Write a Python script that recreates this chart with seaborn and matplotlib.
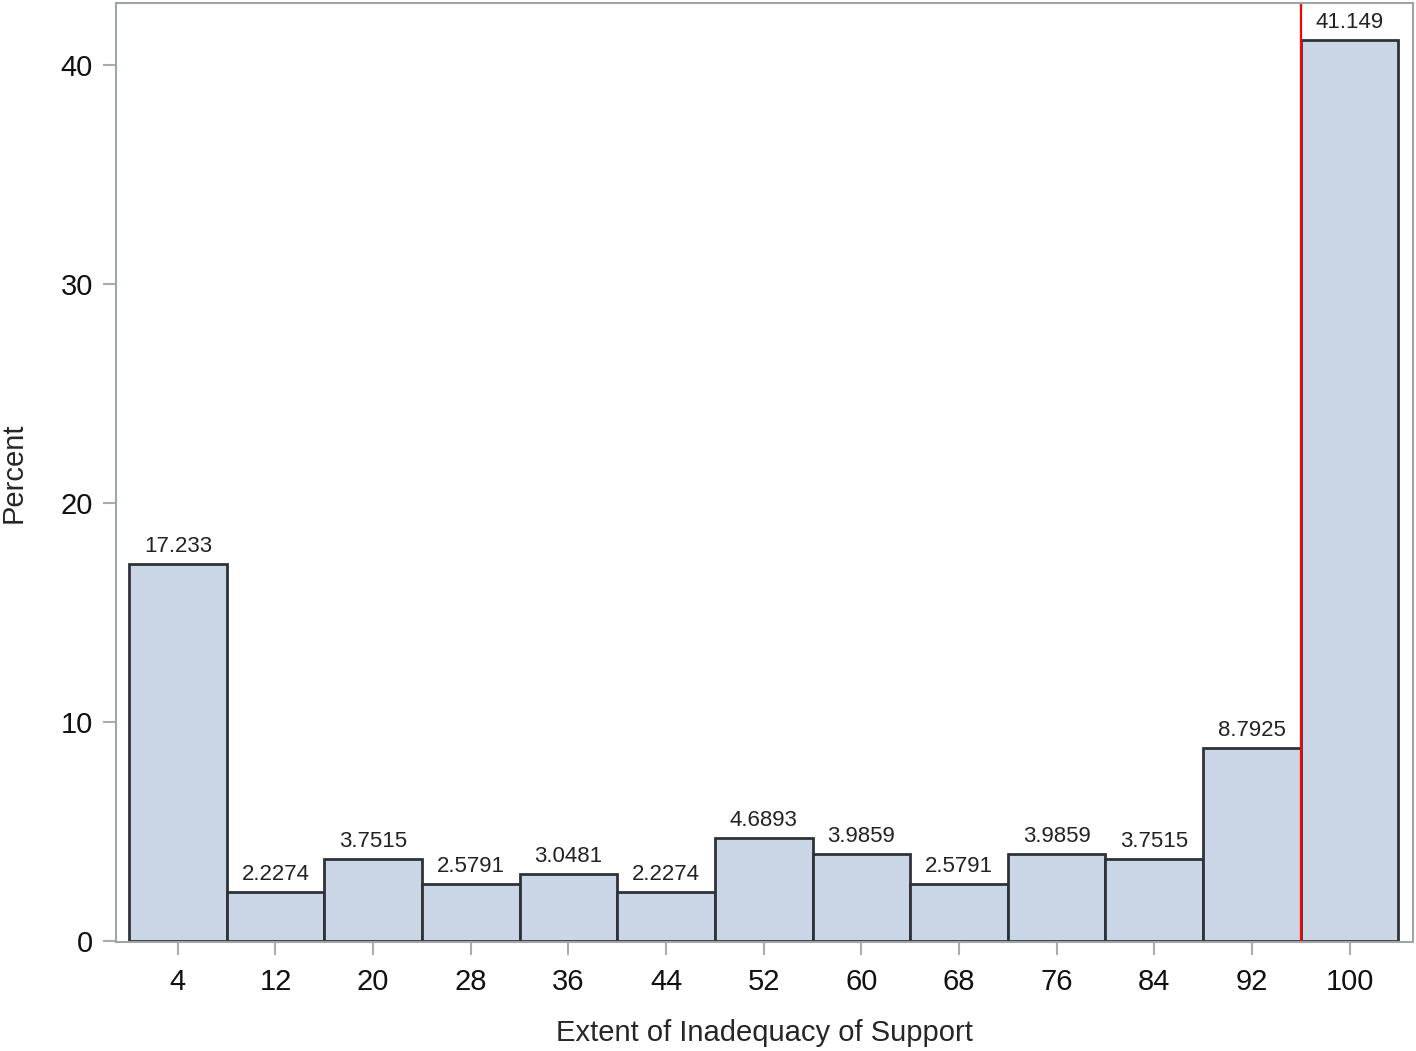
import matplotlib
matplotlib.use("Agg")
import matplotlib.pyplot as plt
import seaborn as sns
import pandas as pd

# histogram midpoints and percent per bin
midpoints = [4, 12, 20, 28, 36, 44, 52, 60, 68, 76, 84, 92, 100]
percent = [17.233, 2.2274, 3.7515, 2.5791, 3.0481, 2.2274, 4.6893,
           3.9859, 2.5791, 3.9859, 3.7515, 8.7925, 41.149]
bar_labels = ["17.233", "2.2274", "3.7515", "2.5791", "3.0481", "2.2274", "4.6893",
              "3.9859", "2.5791", "3.9859", "3.7515", "8.7925", "41.149"]
ref_line = 96

df = pd.DataFrame({"extent": midpoints, "pct": percent})

sns.set_style("white")
plt.rcParams["font.family"] = ["Liberation Sans", "DejaVu Sans"]

fig = plt.figure(figsize=(14.16, 10.51), dpi=100)
ax = fig.add_axes([0.0819, 0.1037, 0.916, 0.8934])

sns.histplot(data=df, x="extent", weights="pct", binwidth=8, binrange=(0, 104),
             color="#cad5e5", edgecolor="#2e3338", linewidth=2, alpha=1, ax=ax)

# values above bars
for patch, lab in zip(ax.patches, bar_labels):
    ax.annotate(lab, (patch.get_x() + patch.get_width() / 2, patch.get_height()),
                xytext=(0, 5), textcoords="offset points", ha="center", va="bottom",
                fontsize=16, color="#222222")

ax.axvline(ref_line, color="red", linewidth=1.6)

ax.set_xlim(-1.07, 105.2)
ax.set_ylim(-0.05, 42.83)
ax.set_xticks(midpoints)
ax.set_yticks([0, 10, 20, 30, 40])
ax.tick_params(axis="both", direction="out", length=9.5, width=1.5, color="#a8adb0",
               labelsize=21, labelcolor="#111111", pad=7, bottom=True, left=True)
ax.tick_params(axis="x", pad=9)
for s in ax.spines.values():
    s.set_color("#9ea4a7")
    s.set_linewidth(1.5)

ax.set_xlabel("Extent of Inadequacy of Support", fontsize=21, labelpad=17)
ax.set_ylabel("Percent", fontsize=21, labelpad=24)

fig.savefig("out.png", dpi=100)
